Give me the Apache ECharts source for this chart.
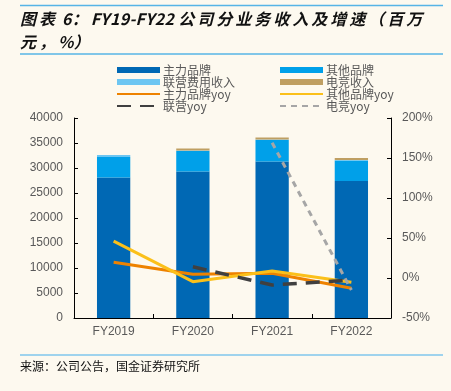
<!DOCTYPE html>
<html><head><meta charset="utf-8">
<script src="https://cdn.jsdelivr.net/npm/echarts@6/dist/echarts.min.js"></script>
<style>html,body{margin:0;padding:0;background:#FDF9EF}#c{width:451px;height:391px}</style>
</head><body><div id="c"></div>
<script>
const categories = ['FY2019','FY2020','FY2021','FY2022'];
const mainBrand = [28100, 29300, 31300, 27400];
const otherBrand = [4100, 4100, 4300, 4100];
const jointFee = [400, 100, 100, 100];
const esports = [0, 400, 400, 400];
const mainYoy = [19.6, 4.6, 6.0, -12.9];
const otherYoy = [46, -4.6, 8.8, -5.4];
const jointYoy = [null, 14, -8.8, -2.5];
const esportsYoy = [null, null, 169, -15];
const leftTicks = [0, 40000, 5000];
const rightTicks = [-50, 200, 50];

const chart = echarts.init(document.getElementById('c'));
const font = '"Noto Sans CJK SC", "Liberation Sans", sans-serif';
const numFont = '"Liberation Sans", Arial, sans-serif';

const cv = document.createElement('canvas').getContext('2d');
function spacedText(str, x, y, size, spacing) {
  const els = [];
  const f = 'italic bold ' + size + 'px ' + font;
  cv.font = f;
  let cx = x;
  for (const ch of str) {
    const cjk = /[\u3000-\u9fff\uff00-\uffef]/.test(ch);
    els.push({type:'text', left: cx, top: y, style:{text: ch, font: f, fill:'#111'}});
    cx += cv.measureText(ch).width + (cjk ? spacing : 0.3);
  }
  return els;
}
const titleEls = spacedText('图表 6：FY19-FY22 公司分业务收入及增速（百万', 20, 11, 16, 3.0)
  .concat(spacedText('元，%）', 20, 34, 16, 3.0));

const barCommon = {type:'bar', stack:'rev', barWidth:'42%', yAxisIndex:0};
const lineCommon = {type:'line', yAxisIndex:1, symbol:'none', smooth:false, connectNulls:false};
const legendText = {fontSize:12, color:'#595959', lineHeight:12, padding:[0,0,0,-2]};
const noSym = {opacity:0};

chart.setOption({
  backgroundColor:'#FDF9EF',
  animation:false,
  textStyle:{fontFamily:font},
  graphic: [
    {type:'line', shape:{x1:20,y1:5.5,x2:443,y2:5.5}, style:{stroke:'#56B4E6', lineWidth:1.5}},
    {type:'line', shape:{x1:20,y1:54,x2:443,y2:54}, style:{stroke:'#56B4E6', lineWidth:1.5}},
    {type:'line', shape:{x1:20,y1:355,x2:443,y2:355}, style:{stroke:'#7FC6EC', lineWidth:1.5}},
    {type:'text', left:20, top:360, style:{text:'来源：公司公告，国金证券研究所', font:'12px ' + font, fill:'#111'}}
  ].concat(titleEls),
  legend:[
    {left:111, top:59, orient:'vertical', itemWidth:43, itemHeight:6, itemGap:0, textStyle:legendText,
     data:[{name:'主力品牌',icon:'rect'},{name:'联营费用收入',icon:'rect'},
           {name:'主力品牌yoy',itemStyle:noSym},{name:'联营yoy',itemStyle:noSym}]},
    {left:274, top:59, orient:'vertical', itemWidth:43, itemHeight:6, itemGap:0, textStyle:legendText,
     data:[{name:'其他品牌',icon:'rect'},{name:'电竞收入',icon:'rect'},
           {name:'其他品牌yoy',itemStyle:noSym},{name:'电竞yoy',itemStyle:noSym}]}
  ],
  grid:{left:74, right:60, top:118, bottom:73},
  xAxis:{type:'category', data:categories,
    axisLine:{lineStyle:{color:'#000', width:1}},
    axisTick:{show:true, inside:true, length:4, lineStyle:{color:'#000'}},
    axisLabel:{color:'#595959', fontSize:12, fontFamily:numFont, margin:8}},
  yAxis:[
    {type:'value', min:leftTicks[0], max:leftTicks[1], interval:leftTicks[2],
     axisLine:{show:true, lineStyle:{color:'#000'}},
     axisTick:{show:true, inside:true, length:4, lineStyle:{color:'#000'}},
     splitLine:{show:false},
     axisLabel:{color:'#595959', fontSize:12, fontFamily:numFont, margin:11, formatter: v => String(v)}},
    {type:'value', min:rightTicks[0], max:rightTicks[1], interval:rightTicks[2],
     axisLine:{show:true, lineStyle:{color:'#000'}},
     axisTick:{show:true, inside:true, length:4, lineStyle:{color:'#000'}},
     splitLine:{show:false},
     axisLabel:{color:'#595959', fontSize:12, fontFamily:numFont, margin:11, formatter: v => v + '%'}}
  ],
  series:[
    Object.assign({name:'主力品牌', data:mainBrand, itemStyle:{color:'#0068B4'}}, barCommon),
    Object.assign({name:'其他品牌', data:otherBrand, itemStyle:{color:'#00A0E9'}}, barCommon),
    Object.assign({name:'联营费用收入', data:jointFee, itemStyle:{color:'#6DC6F2'}}, barCommon),
    Object.assign({name:'电竞收入', data:esports, itemStyle:{color:'#BF9F62'}}, barCommon),
    Object.assign({name:'主力品牌yoy', data:mainYoy, itemStyle:{color:'#EE8200'}, lineStyle:{color:'#EE8200', width:3}}, lineCommon),
    Object.assign({name:'其他品牌yoy', data:otherYoy, itemStyle:{color:'#FBC01A'}, lineStyle:{color:'#FBC01A', width:3}}, lineCommon),
    Object.assign({name:'联营yoy', data:jointYoy, itemStyle:{color:'#404040'}, lineStyle:{color:'#404040', width:3.5, type:[14,9]}}, lineCommon),
    Object.assign({name:'电竞yoy', data:esportsYoy, itemStyle:{color:'#A6A6A6'}, lineStyle:{color:'#A6A6A6', width:3, type:[6,5]}}, lineCommon)
  ]
});
</script></body></html>
